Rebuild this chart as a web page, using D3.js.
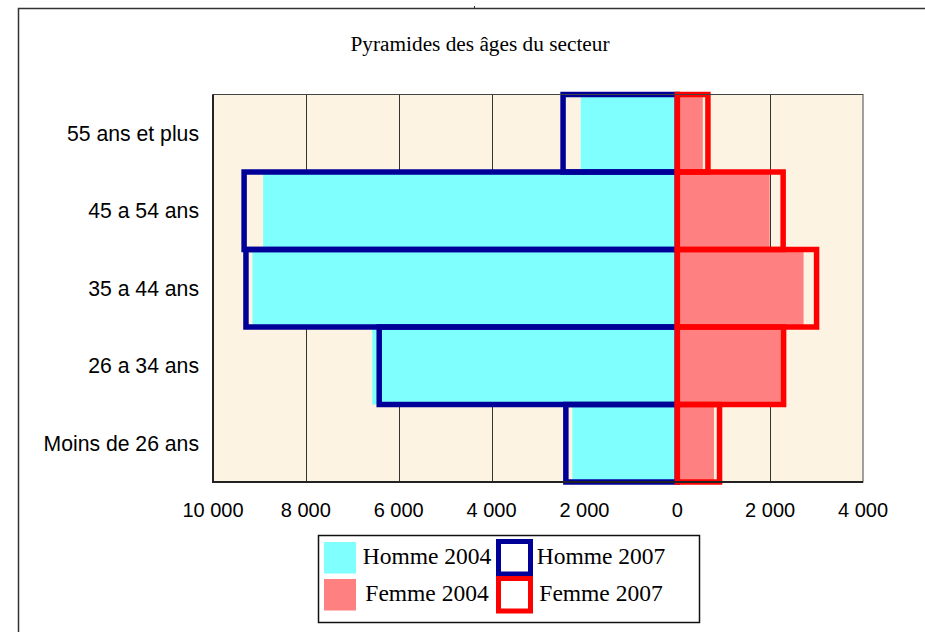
<!DOCTYPE html>
<html>
<head>
<meta charset="utf-8">
<script src="https://cdn.jsdelivr.net/npm/d3@7"></script>
<style>
  body { margin: 0; background: #fff; }
  svg { display: block; }
</style>
</head>
<body>
<svg id="chart" width="925" height="632" viewBox="0 0 925 632"></svg>
<script>
// age groups, top to bottom
const ageGroups = ["55 ans et plus", "45 a 54 ans", "35 a 44 ans", "26 a 34 ans", "Moins de 26 ans"];
const homme2004 = [2080, 8920, 9150, 6570, 2260];
const homme2007 = [2460, 9330, 9290, 6420, 2400];
const femme2004 = [550, 1990, 2720, 2240, 790];
const femme2007 = [660, 2280, 3000, 2290, 910];
const xTicks = [-10000, -8000, -6000, -4000, -2000, 0, 2000, 4000];

const svg = d3.select("#chart");
const width = 925, height = 632;
const plot = { left: 213, right: 863, top: 94.5, bottom: 482 };

// outer frame
svg.append("path")
    .attr("d", `M18.5,${height} V8.5 H${width}`)
    .attr("fill", "none")
    .attr("stroke", "#333")
    .attr("stroke-width", 1.5);
svg.append("line")
    .attr("x1", 474.5).attr("x2", 474.5).attr("y1", 6).attr("y2", 9)
    .attr("stroke", "#333");

svg.append("text")
    .attr("x", 480).attr("y", 51)
    .attr("text-anchor", "middle")
    .style("font-family", "'Liberation Serif', 'Times New Roman', serif")
    .style("font-size", "21.3px")
    .text("Pyramides des âges du secteur");

const x = d3.scaleLinear().domain([-10000, 4000]).range([plot.left, plot.right]);
const y = d3.scaleBand().domain(ageGroups).range([plot.top, plot.bottom]).padding(0);

const g = svg.append("g");

g.append("rect")
    .attr("x", plot.left).attr("y", plot.top)
    .attr("width", plot.right - plot.left).attr("height", plot.bottom - plot.top)
    .attr("fill", "#fdf3e3");

g.selectAll(".grid")
    .data(xTicks.slice(1, -1))
    .enter().append("line")
    .attr("class", "grid")
    .attr("x1", d => Math.round(x(d)) + 0.5).attr("x2", d => Math.round(x(d)) + 0.5)
    .attr("y1", plot.top).attr("y2", plot.bottom)
    .attr("stroke", "#333").attr("stroke-width", 1);

// 2004 filled bars
g.selectAll(".h04")
    .data(homme2004)
    .enter().append("rect")
    .attr("x", d => x(-d)).attr("width", d => x(0) - x(-d))
    .attr("y", (d, i) => y(ageGroups[i])).attr("height", y.bandwidth())
    .attr("fill", "#80ffff");

g.selectAll(".f04")
    .data(femme2004)
    .enter().append("rect")
    .attr("x", x(0)).attr("width", d => x(d) - x(0))
    .attr("y", (d, i) => y(ageGroups[i])).attr("height", y.bandwidth())
    .attr("fill", "#ff8080");

// 2007 outlined bars
g.selectAll(".h07")
    .data(homme2007)
    .enter().append("rect")
    .attr("x", d => x(-d)).attr("width", d => x(0) - x(-d))
    .attr("y", (d, i) => y(ageGroups[i])).attr("height", y.bandwidth())
    .attr("fill", "none")
    .attr("stroke", "#000099").attr("stroke-width", 5.5);

g.selectAll(".f07")
    .data(femme2007)
    .enter().append("rect")
    .attr("x", x(0)).attr("width", d => x(d) - x(0))
    .attr("y", (d, i) => y(ageGroups[i])).attr("height", y.bandwidth())
    .attr("fill", "none")
    .attr("stroke", "#ff0000").attr("stroke-width", 5.5);

// plot border
g.append("rect")
    .attr("x", plot.left).attr("y", plot.top)
    .attr("width", plot.right - plot.left).attr("height", plot.bottom - plot.top)
    .attr("fill", "none").attr("stroke", "#444").attr("stroke-width", 1);
g.append("path")
    .attr("d", `M${plot.left},${plot.top} V${plot.bottom} H${plot.right}`)
    .attr("fill", "none").attr("stroke", "#222").attr("stroke-width", 2);

// axes labels
const fmt = v => d3.format(",")(Math.abs(v)).replace(/,/g, " ");
svg.selectAll(".xtick")
    .data(xTicks)
    .enter().append("text")
    .attr("x", d => x(d)).attr("y", 517)
    .attr("text-anchor", "middle")
    .style("font-family", "'Liberation Sans', Arial, sans-serif")
    .style("font-size", "20px")
    .text(fmt);

svg.selectAll(".ylab")
    .data(ageGroups)
    .enter().append("text")
    .attr("x", 199).attr("y", d => y(d) + y.bandwidth() / 2)
    .attr("dy", "0.36em")
    .attr("text-anchor", "end")
    .style("font-family", "'Liberation Sans', Arial, sans-serif")
    .style("font-size", "21.2px")
    .text(d => d);

// legend
const legend = svg.append("g");
legend.append("rect")
    .attr("x", 318.5).attr("y", 535.5).attr("width", 381).attr("height", 87)
    .attr("fill", "#fff").attr("stroke", "#111").attr("stroke-width", 1.5);

const legendItems = [
    { label: "Homme 2004", fill: "#80ffff", stroke: null, col: 0, row: 0 },
    { label: "Homme 2007", fill: "none", stroke: "#000099", col: 1, row: 0 },
    { label: "Femme 2004", fill: "#ff8080", stroke: null, col: 0, row: 1 },
    { label: "Femme 2007", fill: "none", stroke: "#ff0000", col: 1, row: 1 }
];

legendItems.forEach(it => {
    const ry = it.row === 0 ? 542 : 579;
    if (it.stroke) {
        legend.append("rect")
            .attr("x", 498.5).attr("y", ry - 0.5).attr("width", 32).attr("height", 32.5)
            .attr("fill", "none").attr("stroke", it.stroke).attr("stroke-width", 5);
    } else {
        legend.append("rect")
            .attr("x", 324).attr("y", ry).attr("width", 32).attr("height", 31.5)
            .attr("fill", it.fill);
    }
    legend.append("text")
        .attr("x", it.col === 0 ? 427 : 601)
        .attr("y", it.row === 0 ? 563.5 : 600.5)
        .attr("text-anchor", "middle")
        .style("font-family", "'Liberation Serif', 'Times New Roman', serif")
        .style("font-size", "23.5px")
        .text(it.label);
});
</script>
</body>
</html>
